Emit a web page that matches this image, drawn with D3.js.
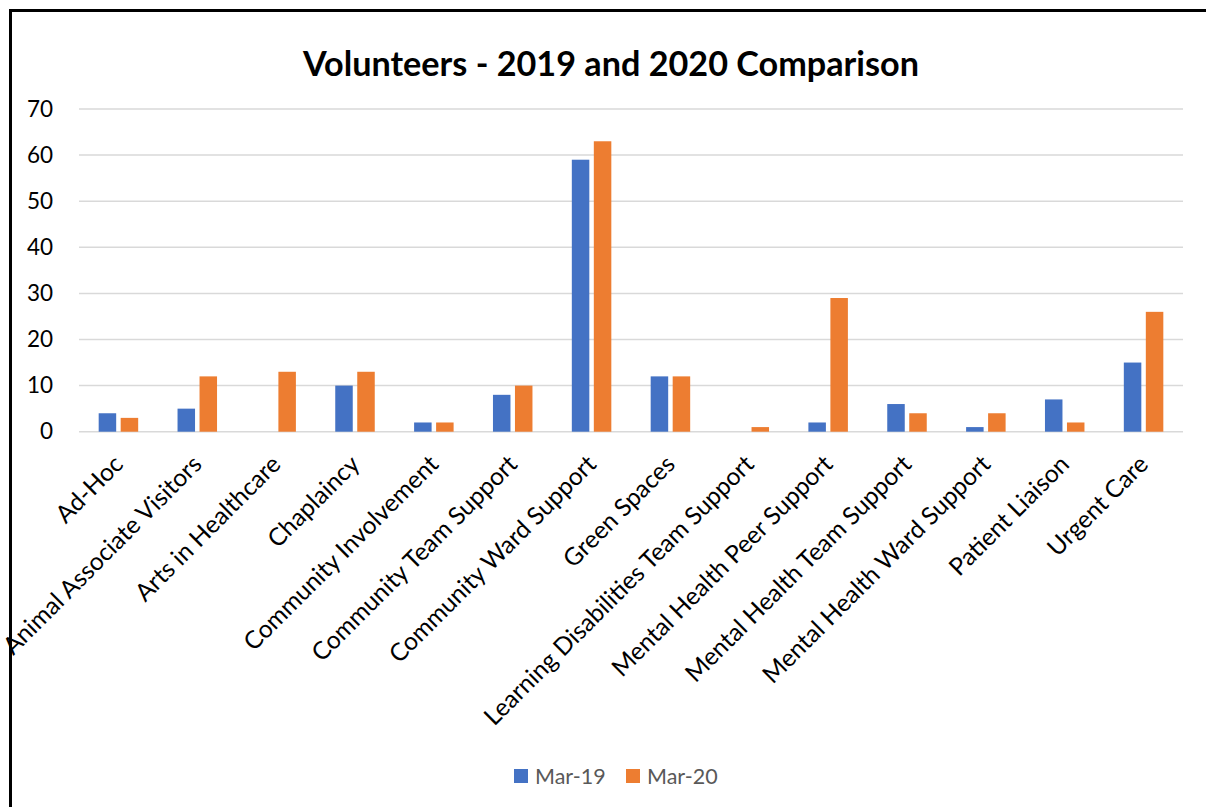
<!DOCTYPE html>
<html><head><meta charset="utf-8">
<script src="https://cdn.jsdelivr.net/npm/d3@7"></script>
<style>body{margin:0;background:#fff;}svg{display:block;}</style>
</head><body>
<svg id="c" width="1206" height="807"></svg>
<script>
const categories = ["Ad-Hoc","Animal Associate Visitors","Arts in Healthcare","Chaplaincy","Community Involvement","Community Team Support","Community Ward Support","Green Spaces","Learning Disabilities Team Support","Mental Health Peer Support","Mental Health Team Support","Mental Health Ward Support","Patient Liaison","Urgent Care"];
const mar19 = [4,5,0,10,2,8,59,12,0,2,6,1,7,15];
const mar20 = [3,12,13,13,2,10,63,12,1,29,4,4,2,26];
const seriesNames = ["Mar-19","Mar-20"];
const yTicks = [0,10,20,30,40,50,60,70];
const colors = ["#4472C4","#ED7D31"];
const font = "Lato, 'Open Sans', sans-serif";

const svg = d3.select("#c");
svg.append("rect").attr("x",10.5).attr("y",10.5).attr("width",1220).attr("height",820)
  .attr("fill","#fff").attr("stroke","#000").attr("stroke-width",3);

const L=79,R=1183,T=109,B=431.7;
const x = d3.scaleBand().domain(categories).range([L,R]).padding(0);
const y = d3.scaleLinear().domain([0,70]).range([B,T]);

svg.append("g").selectAll("line").data(yTicks).join("line")
  .attr("x1",L).attr("x2",R).attr("y1",d=>y(d)).attr("y2",d=>y(d))
  .attr("stroke","#d9d9d9").attr("stroke-width",1.5);

const yAxis = svg.append("g").attr("transform",`translate(${L},0)`)
  .call(d3.axisLeft(y).tickValues(yTicks).tickSize(0).tickPadding(26));
yAxis.select(".domain").remove();
yAxis.selectAll("text").attr("font-family",font).attr("font-size",22.5).attr("fill","#000");

const bw = 17.5, gap = 4.5;
const data = categories.map((c,i)=>({c,v:[mar19[i],mar20[i]]}));
seriesNames.forEach((s,k)=>{
  svg.append("g").selectAll("rect").data(data).join("rect")
    .attr("x",d=>x(d.c)+x.bandwidth()/2 + (k===0 ? -gap/2-bw : gap/2))
    .attr("width",bw)
    .attr("y",d=>y(d.v[k])).attr("height",d=>y(0)-y(d.v[k]))
    .attr("fill",colors[k]);
});

const xAxis = svg.append("g").attr("transform",`translate(0,${B})`)
  .call(d3.axisBottom(x).tickSize(0).tickPadding(0));
xAxis.select(".domain").remove();
xAxis.selectAll("text")
  .attr("font-family",font).attr("font-size",24.5).attr("fill","#000")
  .attr("text-anchor","end")
  .attr("transform","translate(0,28) rotate(-45)")
  .attr("dy","0.35em");

svg.append("text").attr("x",611).attr("y",76).attr("text-anchor","middle")
  .attr("font-family",font).attr("font-weight","bold").attr("font-size",34.2).attr("fill","#000")
  .text("Volunteers - 2019 and 2020 Comparison");

const lg = svg.append("g");
const lx=[514,626];
seriesNames.forEach((s,k)=>{
  lg.append("rect").attr("x",lx[k]).attr("y",769).attr("width",14).attr("height",14).attr("fill",colors[k]);
  lg.append("text").attr("x",lx[k]+21).attr("y",784).attr("font-family",font).attr("font-size",21.5)
    .attr("fill","#595959").text(s);
});
</script>
</body></html>
